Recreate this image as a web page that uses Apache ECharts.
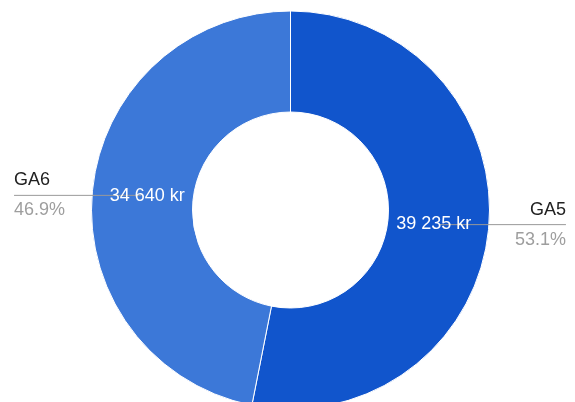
<!DOCTYPE html>
<html>
<head>
<meta charset="utf-8">
<script src="https://cdn.jsdelivr.net/npm/echarts@6/dist/echarts.min.js"></script>
<style>
  html, body { margin: 0; padding: 0; background: #fff; }
  #main { width: 575px; height: 402px; }
</style>
</head>
<body>
<div id="main"></div>
<script>
var categories = ['GA5', 'GA6'];
var values = [39235, 34640];
var colors = ['#1155cc', '#3c78d8'];

var font = 'Arial, "Liberation Sans", sans-serif';
var center = [290.5, 210];

function kr(v) {
    return String(v).replace(/\B(?=(\d{3})+(?!\d))/g, ' ') + ' kr';
}

var pieData = categories.map(function (name, i) {
    return { name: name, value: values[i], itemStyle: { color: colors[i] } };
});

// invisible ring only carrying the outside labels + leader lines
var labelData = categories.map(function (name, i) {
    return {
        name: name,
        value: values[i],
        label: { edgeDistance: i === 0 ? 9 : 14 }
    };
});

var myChart = echarts.init(document.getElementById('main'));
var option = {
    animation: false,
    series: [{
        type: 'pie',
        center: center,
        radius: [98, 199],
        startAngle: 90,
        clockwise: true,
        silent: true,
        z: 2,
        itemStyle: { borderColor: '#fff', borderWidth: 1 },
        label: { show: false },
        labelLine: { show: false },
        data: pieData
    }, {
        type: 'pie',
        center: center,
        radius: [0, 150],
        startAngle: 90,
        clockwise: true,
        silent: true,
        z: 3,
        itemStyle: { color: 'rgba(0,0,0,0)' },
        label: {
            show: true,
            position: 'outside',
            alignTo: 'edge',
            distanceToLabelLine: -51,
            fontFamily: font,
            formatter: function (p) {
                return '{n|' + p.name + '}\n{p|' + p.percent.toFixed(1) + '%}';
            },
            rich: {
                n: { fontFamily: font, fontSize: 18, color: '#222', lineHeight: 30 },
                p: { fontFamily: font, fontSize: 18, color: '#9e9e9e', lineHeight: 30 }
            }
        },
        labelLine: {
            show: true,
            length: 0,
            length2: 10,
            lineStyle: { color: '#999', width: 1 }
        },
        data: labelData
    }, {
        // value labels inside the ring
        type: 'pie',
        center: center,
        radius: [98, 184],
        startAngle: 90,
        clockwise: true,
        silent: true,
        z: 4,
        itemStyle: { color: 'rgba(0,0,0,0)' },
        label: {
            show: true,
            position: 'inside',
            color: '#fff',
            fontFamily: font,
            fontSize: 18,
            formatter: function (p) { return kr(p.value); }
        },
        labelLine: { show: false },
        data: categories.map(function (name, i) {
            return { name: name, value: values[i] };
        })
    }]
};
myChart.setOption(option);
</script>
</body>
</html>
